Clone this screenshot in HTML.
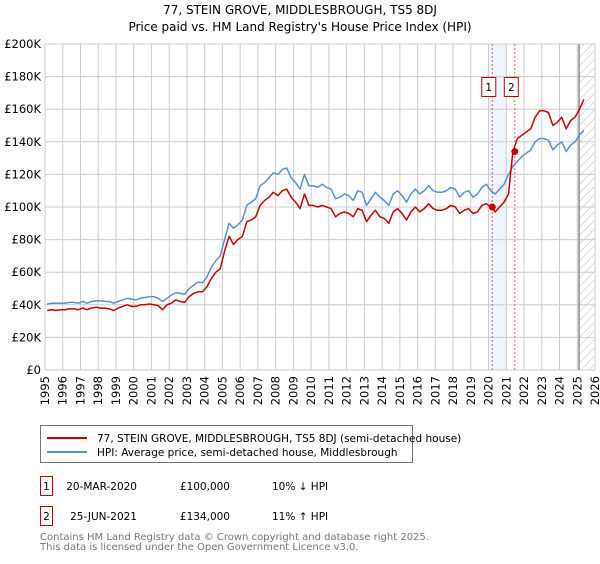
<!DOCTYPE html>
<html><head><meta charset="utf-8"><style>
body{margin:0;background:#fff;font-family:"DejaVu Sans","Liberation Sans",sans-serif;}
svg text{font-family:"DejaVu Sans","Liberation Sans",sans-serif;}
</style></head><body>
<svg id="c" width="600" height="560" xmlns="http://www.w3.org/2000/svg">
<defs><pattern id="hatch" width="6" height="6" patternUnits="userSpaceOnUse" patternTransform="rotate(45)"><line x1="0" y1="0" x2="0" y2="6" stroke="#bbb" stroke-width="1"/></pattern></defs>
<text x="300" y="14" text-anchor="middle" font-size="12" fill="#000">77, STEIN GROVE, MIDDLESBROUGH, TS5 8DJ</text>
<text x="300" y="31" text-anchor="middle" font-size="12" fill="#000">Price paid vs. HM Land Registry's House Price Index (HPI)</text>
<g id="grid"></g><g id="marks"></g><g id="axes"></g>
<g>
<rect x="40.5" y="425.5" width="372" height="37" fill="#fff" stroke="#777"/>
<line x1="47" y1="438" x2="87" y2="438" stroke="#cc0000" stroke-width="2"/>
<text x="97" y="442" font-size="10.5" fill="#000">77, STEIN GROVE, MIDDLESBROUGH, TS5 8DJ (semi-detached house)</text>
<line x1="47" y1="452" x2="87" y2="452" stroke="#5b8fd4" stroke-width="2"/>
<text x="97" y="456" font-size="10.5" fill="#000">HPI: Average price, semi-detached house, Middlesbrough</text>
</g>
<g font-size="10.5" fill="#000">
<rect x="40.5" y="476.5" width="12" height="19" fill="#fff" stroke="#cc0000"/>
<text x="46.5" y="490" text-anchor="middle">1</text>
<text x="137" y="490" text-anchor="end">20-MAR-2020</text>
<text x="230" y="490" text-anchor="end">£100,000</text>
<text x="272" y="490">10% ↓ HPI</text>
<rect x="40.5" y="506.5" width="12" height="19" fill="#fff" stroke="#cc0000"/>
<text x="46.5" y="520" text-anchor="middle">2</text>
<text x="137" y="520" text-anchor="end">25-JUN-2021</text>
<text x="230" y="520" text-anchor="end">£134,000</text>
<text x="272" y="520">11% ↑ HPI</text>
</g>
<text x="40" y="540" font-size="10" fill="#777">Contains HM Land Registry data © Crown copyright and database right 2025.</text>
<text x="40" y="550" font-size="10" fill="#777">This data is licensed under the Open Government Licence v3.0.</text>
</svg>
<script>
const yTicks=[0,20,40,60,80,100,120,140,160,180,200];
const yTickLabels=["£0","£20K","£40K","£60K","£80K","£100K","£120K","£140K","£160K","£180K","£200K"];
const years=[1995,1996,1997,1998,1999,2000,2001,2002,2003,2004,2005,2006,2007,2008,2009,2010,2011,2012,2013,2014,2015,2016,2017,2018,2019,2020,2021,2022,2023,2024,2025,2026];
const hpiValues=[40.5,41,41,41, 41,41.5,41.5,41, 42,41,42,42.5, 42.5,42,42,41, 42,43,44,43.5, 43,44,44.5,45, 45,44,42,44, 46,47.5,47,46.5, 50,52,54,53.5, 57,63,67,70, 80,90,87,89, 92,101,103,105, 113,115,118,121, 120,123,124,118, 115,111,120,113, 113,112,114,112, 111,105,106,108, 107,104,110,109, 101,105,109,106, 104,101,108,110, 107,103,108,111, 108,110,113,110, 109,109,110,112, 111,106,109,110, 106,108,112,114, 110,108,111,114, 120,125,128,131, 133,135,140,142, 142,141,135,138, 140,134,138,140, 144,147];
const priceValues=[36.5,37,36.5,37, 37,37.5,37.5,37, 38,37,38,38.5, 38,38,37.5,36.5, 38,39,40,39, 39,40,40,40.5, 40,39.5,37,40, 41,43,42,41.5, 45,47,48,48, 51,56,60,62, 73,82,77,80, 82,91,92,94, 101,104,106,109, 107,110,111,106, 103,99,108,101, 101,100,101,100, 99,94,96,97, 96,94,99,98, 91,95,98,94, 93,90,97,99, 96,92,97,100, 97,99,102,99, 98,98,99,101, 100,96,98,99, 96,97,101,102, 100,97,100,103, 108,134,142,144, 146,148,155,159, 159,158,150,152, 155,148,153,155, 160,166];
const saleDates=[2020.21,2021.48];
const salePrices=[100,134];
const saleLabels=["1","2"];
const NS="http://www.w3.org/2000/svg";
const X0=45,X1=595,Y0=370,Y1=44;
const xs=y=>X0+(y-1995)*(X1-X0)/31;
const ys=v=>Y0-v*(Y0-Y1)/200;
function mk(t,a,p){const e=document.createElementNS(NS,t);for(const k in a)e.setAttribute(k,a[k]);p.appendChild(e);return e;}
const grid=document.getElementById('grid'),marks=document.getElementById('marks'),axes=document.getElementById('axes');
let band=mk('rect',{x:xs(2020),y:Y1,width:xs(2021)-xs(2020),height:Y0-Y1,fill:'#eef3fc'},grid);


let hat=mk('rect',{x:xs(2025.1),y:Y1,width:X1-xs(2025.1),height:Y0-Y1,fill:'url(#hatch)'},grid);


yTicks.forEach((v,i)=>{
 let l=mk('line',{x1:X0,x2:X1,y1:ys(v),y2:ys(v),stroke:'#ccc'},grid);
 
 
 let t=mk('text',{x:X0-4,y:ys(v)+4,'text-anchor':'end','font-size':'11.5',fill:'#000'},axes);
 t.textContent=yTickLabels[i];
 
 
});
years.forEach(yr=>{
 let l=mk('line',{x1:xs(yr),x2:xs(yr),y1:Y1,y2:Y0,stroke:'#ccc'},grid);
 
 
 let t=mk('text',{x:0,y:0,'text-anchor':'end','font-size':'11.5',fill:'#000',transform:`translate(${xs(yr)+4},${Y0+6}) rotate(-90)`},axes);
 t.textContent=yr;
 
 
});
let vl=mk('line',{x1:xs(2025.1),x2:xs(2025.1),y1:Y1,y2:Y0,stroke:'#888','stroke-width':1.5},grid);


saleDates.forEach((d,i)=>{
 let l=mk('line',{x1:xs(d),x2:xs(d),y1:Y1,y2:Y0,stroke:'#e06060','stroke-dasharray':'2,2'},grid);
 
 
});
function path(vals,col,name){
 let d=vals.map((v,i)=>(i?'L':'M')+xs(1995+i*0.25+0.125).toFixed(1)+','+ys(v).toFixed(1)).join('');
 let p=mk('path',{d:d,fill:'none',stroke:col,'stroke-width':1.5,'stroke-linejoin':'round'},marks);
 
 
}
path(hpiValues,'#5b8fd4','hpi-line');
path(priceValues,'#cc0000','price-line');
saleDates.forEach((d,i)=>{
 let c=mk('circle',{cx:xs(d),cy:ys(salePrices[i]),r:3.5,fill:'#cc0000'},marks);
 
 
 let r=mk('rect',{x:xs(d)-10.5,y:77.5,width:14,height:19,fill:'#fff',stroke:'#cc0000'},marks);
 
 
 let t=mk('text',{x:xs(d)-3.5,y:91,'text-anchor':'middle','font-size':'10.5',fill:'#000'},marks);
 t.textContent=saleLabels[i];
 
 
});
</script>
</body></html>
